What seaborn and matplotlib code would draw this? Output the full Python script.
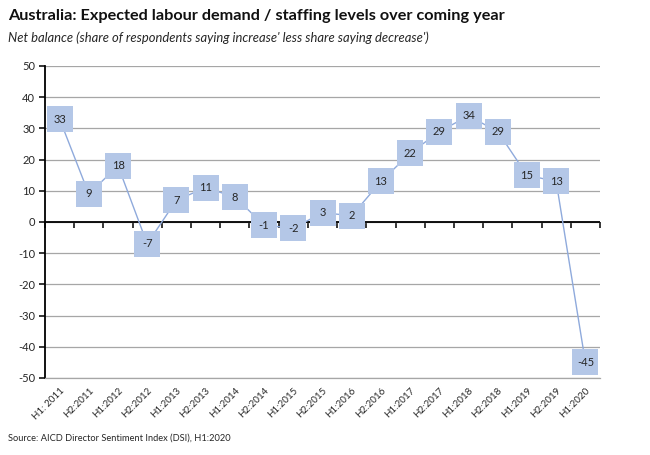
import matplotlib
matplotlib.use("Agg")
import matplotlib.pyplot as plt
import seaborn as sns
import pandas as pd
import numpy as np

periods = ["H1: 2011", "H2:2011", "H1:2012", "H2:2012", "H1:2013", "H2:2013", "H1:2014",
           "H2:2014", "H1:2015", "H2:2015", "H1:2016", "H2:2016", "H1:2017", "H2:2017",
           "H1:2018", "H2:2018", "H1:2019", "H2:2019", "H1:2020"]
net_balance = [33, 9, 18, -7, 7, 11, 8, -1, -2, 3, 2, 13, 22, 29, 34, 29, 15, 13, -45]
y_ticks = [-50, -40, -30, -20, -10, 0, 10, 20, 30, 40, 50]

title = "Australia: Expected labour demand / staffing levels over coming year"
subtitle = "Net balance (share of respondents saying increase' less share saying decrease')"
source = "Source: AICD Director Sentiment Index (DSI), H1:2020"

sns.set_theme(style="white")
plt.rcParams["font.family"] = ["Lato", "DejaVu Sans"]
plt.rcParams["axes.unicode_minus"] = False

df = pd.DataFrame({"period": periods, "value": net_balance})
df["idx"] = np.arange(len(df))

fig = plt.figure(figsize=(6.5, 4.55), dpi=100)
ax = fig.add_axes([45 / 650, 1 - 378 / 455, 555 / 650, 312 / 455])

n = len(df)
ax.set_xlim(-0.5, n - 0.5)
ax.set_ylim(-50, 50)
ax.set_yticks(y_ticks)
ax.yaxis.grid(True, color="#a6a6a6", linewidth=0.9)
ax.set_axisbelow(True)

for s in ["top", "right"]:
    ax.spines[s].set_visible(False)
ax.spines["bottom"].set_color("#a6a6a6")
ax.spines["bottom"].set_linewidth(0.9)
ax.spines["left"].set_color("black")
ax.spines["left"].set_linewidth(1.3)

ax.axhline(0, color="black", linewidth=1.3, zorder=2)

sns.lineplot(data=df, x="idx", y="value", ax=ax, color="#8faadc", linewidth=1.0,
             marker="s", markersize=19, markerfacecolor="#b4c7e7",
             markeredgewidth=0, zorder=3)

for i, v in zip(df["idx"], df["value"]):
    ax.text(i, v, f"{v}", ha="center", va="center", fontsize=8, color="#262626", zorder=4)

ax.set_xticks(df["idx"])
ax.set_xticklabels(periods, rotation=45, ha="right", rotation_mode="anchor", fontsize=7,
                   color="#262626")
ax.tick_params(axis="x", length=0, pad=6)
ax.tick_params(axis="y", left=True, length=4, width=1.1, color="black", labelsize=8,
               labelcolor="#262626", pad=3)

sec = ax.secondary_xaxis(0.5)
sec.xaxis.set_ticks_position("bottom")
sec.set_xticks(np.arange(-0.5, n, 1.0))
sec.tick_params(axis="x", direction="out", length=4, width=1.1, color="black",
                labelbottom=False, labeltop=False)
sec.spines["bottom"].set_visible(False)
sec.spines["top"].set_visible(False)
sec.set_xticklabels([])

ax.set_xlabel("")
ax.set_ylabel("")

fig.text(8 / 650, 1 - 16 / 455, title, fontsize=11.7, fontweight="bold", va="center",
         ha="left", color="#111111")
fig.text(8 / 650, 1 - 38 / 455, subtitle, fontsize=9.4, style="italic", va="center",
         ha="left", color="#262626")
fig.text(8 / 650, 1 - 438 / 455, source, fontsize=6.7, va="center", ha="left",
         color="#262626")

fig.savefig("out.png", dpi=100)
